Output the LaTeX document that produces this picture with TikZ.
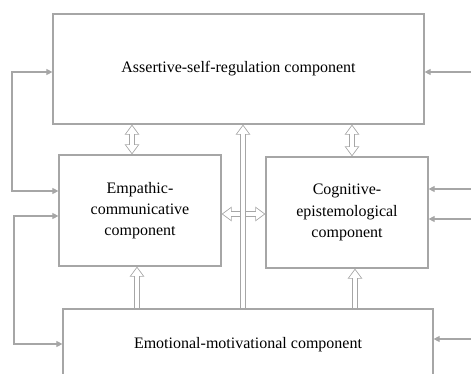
\documentclass[tikz,border=0pt]{standalone}
\usepackage{fontspec}
\setmainfont{Liberation Serif}
\usetikzlibrary{arrows.meta}
\definecolor{linegray}{RGB}{166,166,166}
\begin{document}
\begin{tikzpicture}[x=0.75pt, y=-0.75pt,
    box/.style={draw=linegray, line width=0.9pt, align=center, inner sep=0pt,
                font=\fontsize{12}{16}\selectfont},
    thin/.style={draw=linegray, line width=0.8pt, >={Triangle[length=4.5pt,width=4.5pt]}},
    hollow/.style={draw=white, line width=3pt, arrows={-Triangle[length=5.85pt,width=8.2pt]},
                   shorten >=1.05pt, shorten <=0.5pt,
                   preaction={draw=linegray, line width=4.2pt, arrows={-Triangle[length=7.5pt,width=10.5pt]},
                              shorten >=0pt, shorten <=0pt}},
    hollowboth/.style={draw=white, line width=3pt,
                   arrows={Triangle[length=5.85pt,width=8.2pt]-Triangle[length=5.85pt,width=8.2pt]},
                   shorten >=1.05pt, shorten <=1.05pt,
                   preaction={draw=linegray, line width=4.2pt,
                              arrows={Triangle[length=7.5pt,width=10.5pt]-Triangle[length=7.5pt,width=10.5pt]},
                              shorten >=0pt, shorten <=0pt}}]
  \useasboundingbox (0,0) rectangle (471,374);
  \clip (0,0) rectangle (471,374);
  \node[box, minimum width=278.25pt, minimum height=82.5pt] (asr) at (238.5,69) {Assertive-self-regulation component};
  \node[box, minimum width=121.5pt, minimum height=83.25pt] (emp) at (140,210.5) {Empathic-\\communicative\\component};
  \node[box, minimum width=121.5pt, minimum height=83.25pt] (cog) at (347,212.5) {Cognitive-\\epistemological\\component};
  \node[box, minimum width=277.5pt, minimum height=54pt] (emo) at (248,345) {Emotional-motivational component};
  \coordinate (r1) at (471,72);
  \coordinate (r2) at (471,189);
  \coordinate (r3) at (471,219);
  \coordinate (r4) at (471,339);
  \draw[thin, <->] (asr.west |- 0,72) -| (12,191) -- (emp.west |- 0,191);
  \draw[thin, <->] (emp.west |- 0,216) -| (14,344) -- (emo.west |- 0,344);
  \draw[thin, ->] (r1) -- (r1 -| asr.east);
  \draw[thin, ->] (r2) -- (r2 -| cog.east);
  \draw[thin, ->] (r3) -- (r3 -| cog.east);
  \draw[thin, ->] (r4) -- (r4 -| emo.east);
  \draw[hollowboth] (asr.south -| 132,0) -- (emp.north -| 132,0);
  \draw[hollowboth] (asr.south -| 352,0) -- (cog.north -| 352,0);
  \draw[hollowboth] (emp.east |- 0,214) -- (cog.west |- 0,214);
  \draw[hollow] (emo.north -| 243,0) -- (asr.south -| 243,0);
  \draw[hollow] (emo.north -| 137,0) -- (emp.south -| 137,0);
  \draw[hollow] (emo.north -| 355,0) -- (cog.south -| 355,0);
\end{tikzpicture}
\end{document}
